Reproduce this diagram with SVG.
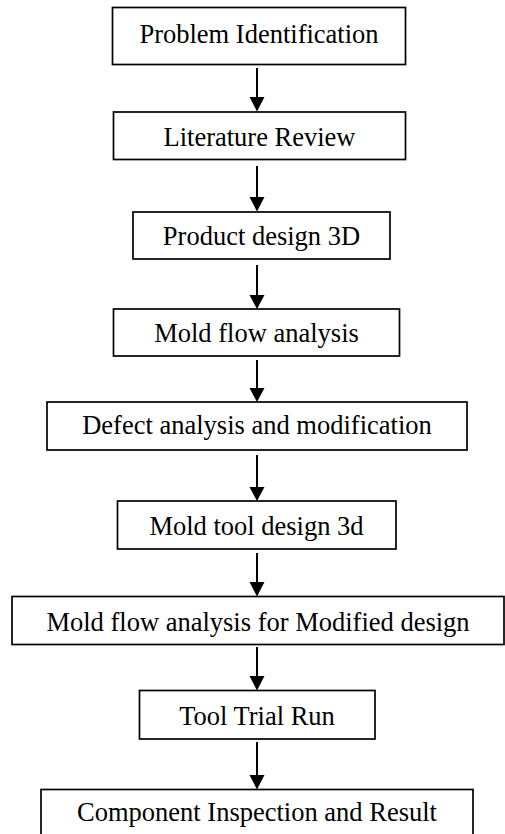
<svg xmlns="http://www.w3.org/2000/svg" width="505" height="834" viewBox="0 0 505 834">
<defs>
<style>
.box{fill:#fff;stroke:#000;stroke-width:1.7}
.t{font-family:"Liberation Serif","Times New Roman",serif;font-size:26.5px;fill:#000;text-anchor:middle}
.c line{stroke:#000;stroke-width:2}
.c polygon{fill:#000}
</style>
</defs>
<rect width="505" height="834" fill="#fff"/>
<g id="n1"><rect class="box" x="112.5" y="7.5" width="293" height="57"/><text class="t" x="259" y="43">Problem Identification</text></g>
<g id="n2"><rect class="box" x="113.5" y="112" width="292" height="47.5"/><text class="t" x="259.5" y="146">Literature Review</text></g>
<g id="n3"><rect class="box" x="133" y="212" width="257" height="47"/><text class="t" x="261.5" y="245">Product design 3D</text></g>
<g id="n4"><rect class="box" x="113.5" y="309" width="286" height="47"/><text class="t" x="256.5" y="342">Mold flow analysis</text></g>
<g id="n5"><rect class="box" x="47" y="402" width="420" height="48"/><text class="t" x="257" y="434">Defect analysis and modification</text></g>
<g id="n6"><rect class="box" x="117.5" y="501" width="278.5" height="48"/><text class="t" x="256.5" y="535">Mold tool design 3d</text></g>
<g id="n7"><rect class="box" x="12" y="596.5" width="492" height="48"/><text class="t" x="258" y="631">Mold flow analysis for Modified design</text></g>
<g id="n8"><rect class="box" x="139.5" y="690.5" width="235.5" height="48.5"/><text class="t" x="257" y="725">Tool Trial Run</text></g>
<g id="n9"><rect class="box" x="41" y="789.5" width="432" height="60"/><text class="t" x="257" y="821">Component Inspection and Result</text></g>
<g id="connectors" class="c">
<line x1="257" y1="68" x2="257" y2="98"/><polygon points="249.5,97 264.5,97 257,111.5"/>
<line x1="257" y1="166" x2="257" y2="198"/><polygon points="249.5,197 264.5,197 257,211.5"/>
<line x1="257" y1="265" x2="257" y2="296"/><polygon points="249.5,295 264.5,295 257,309"/>
<line x1="257" y1="360" x2="257" y2="389"/><polygon points="249.5,388 264.5,388 257,402"/>
<line x1="257" y1="455" x2="257" y2="488"/><polygon points="249.5,487 264.5,487 257,501"/>
<line x1="257" y1="553" x2="257" y2="583"/><polygon points="249.5,582 264.5,582 257,596.5"/>
<line x1="257" y1="647" x2="257" y2="677"/><polygon points="249.5,676 264.5,676 257,690.5"/>
<line x1="257" y1="742" x2="257" y2="776"/><polygon points="249.5,775 264.5,775 257,789.5"/>
</g>
</svg>
